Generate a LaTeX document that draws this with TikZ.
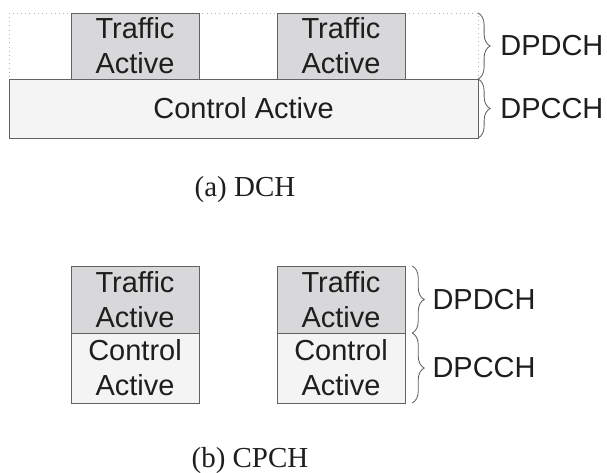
\documentclass[tikz,border=0pt]{standalone}
\usepackage{fontspec}
\setmainfont{Liberation Serif}
\setsansfont{Liberation Sans}
\usepackage{tikz}
\usetikzlibrary{positioning, decorations.pathreplacing}
\definecolor{boxline}{HTML}{626262}
\definecolor{trafficfill}{HTML}{D8D8DA}
\definecolor{controlfill}{HTML}{F4F4F4}
\definecolor{inktext}{HTML}{1E1E1E}

\begin{document}
\begin{tikzpicture}[x=0.025cm, y=-0.025cm,
    chbox/.style={draw=boxline, line width=0.7pt, inner sep=0pt, outer sep=0pt,
        anchor=north west, align=center, text=inktext,
        font=\sffamily\fontsize{20.6}{24.8}\selectfont},
    trafficbox/.style={chbox, fill=trafficfill, minimum width=3.2cm},
    controlbox/.style={chbox, fill=controlfill, minimum width=3.2cm},
    chbrace/.style={draw=boxline, line width=0.6pt,
        decorate, decoration={brace, amplitude=0.3cm}},
    chlabel/.style={anchor=west, inner sep=0pt, text=inktext,
        font=\sffamily\fontsize{20.6}{24.8}\selectfont},
    caption/.style={anchor=base, inner sep=0pt, text=inktext,
        font=\fontsize{20.6}{24.8}\selectfont}]
    \useasboundingbox (0,0) rectangle (607,473);

    % (a) DCH
    \node[chbox, draw=gray!60, dash pattern=on 0.6pt off 2.4pt, minimum width=11.725cm, minimum height=1.65cm] (dpd) at (9,13) {};
    \node[trafficbox, minimum height=1.65cm] (ta1) at (71,13) {Traffic\\Active};
    \node[trafficbox, minimum height=1.65cm] (ta2) at (277,13) {Traffic\\Active};
    \node[chbox, fill=controlfill, minimum width=11.725cm, minimum height=1.475cm] (ctl) at (9,79) {Control Active};

    \draw[chbrace] (dpd.north east) -- (dpd.south east);
    \draw[chbrace] (ctl.north east) -- (ctl.south east);
    \node[chlabel, right=0.55cm of dpd.east] (dpdch) {DPDCH};
    \node[chlabel, right=0.55cm of ctl.east] (dpcch) {DPCCH};

    \node[caption] (capa) at (245,197) {(a) DCH};

    % (b) CPCH
    \node[trafficbox, minimum height=1.675cm] (tb1) at (71,266) {Traffic\\Active};
    \node[controlbox, minimum height=1.75cm] (cb1) at (71,333) {Control\\Active};
    \node[trafficbox, minimum height=1.675cm] (tb2) at (277,266) {Traffic\\Active};
    \node[controlbox, minimum height=1.75cm] (cb2) at (277,333) {Control\\Active};

    \coordinate (bt) at ([xshift=0.18cm]tb2.north east);
    \coordinate (bm) at ([xshift=0.18cm]tb2.south east);
    \coordinate (bb) at ([xshift=0.18cm]cb2.south east);
    \draw[chbrace] (bt) -- (bm);
    \draw[chbrace] (bm) -- (bb);
    \node[chlabel, right=0.68cm of tb2.east] (dpdchb) {DPDCH};
    \node[chlabel, right=0.68cm of cb2.east] (dpcchb) {DPCCH};

    \node[caption] (capb) at (250,467) {(b) CPCH};
\end{tikzpicture}
\end{document}
